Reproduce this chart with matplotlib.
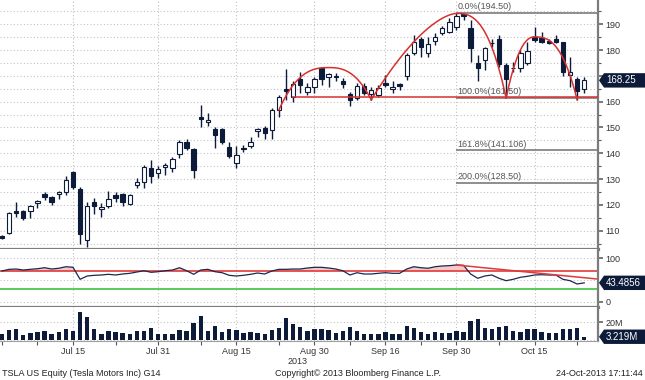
import numpy as np
import pandas as pd
import matplotlib
matplotlib.use("Agg")
import matplotlib.pyplot as plt
from matplotlib.patches import Polygon

plt.rcParams["font.family"] = ["Liberation Sans", "DejaVu Sans"]

# trading days on the chart (Jul 4 and Sep 2 were holidays)
dates = pd.bdate_range("2013-06-28", "2013-10-24")
dates = dates[~dates.isin(pd.to_datetime(["2013-07-04", "2013-09-02"]))]

open_ = [108.0, 109.2, 117.6, 117.6, 117.6, 120.8, 124.2, 123.0, 124.1, 125.0,
         132.7, 126.1, 106.4, 121.3, 118.3, 119.6, 123.9, 124.2, 120.4, 127.8,
         128.9, 134.3, 132.3, 134.7, 134.3, 139.7, 144.4, 141.6, 154.0, 152.1,
         149.4, 149.4, 142.5, 136.2, 141.8, 142.8, 148.6, 149.8, 149.0, 156.7,
         164.8, 161.9, 168.7, 163.9, 165.8, 173.2, 169.7, 169.8, 168.1, 162.9,
         161.3, 166.2, 163.0, 162.6, 167.4, 164.8, 166.7, 170.0, 178.8, 184.2,
         178.8, 183.5, 186.5, 187.1, 189.1, 194.0, 188.4, 174.9, 176.2, 182.9,
         184.2, 174.2, 173.2, 173.0, 174.9, 185.0, 184.6, 183.6, 184.2, 183.3,
         170.3, 168.7, 164.8]
high = [108.3, 117.2, 121.0, 118.0, 120.0, 122.0, 125.0, 123.5, 125.2, 131.0,
        133.2, 127.0, 121.2, 122.7, 120.7, 125.3, 125.0, 124.6, 124.2, 130.3,
        135.6, 137.4, 135.0, 136.2, 138.6, 145.1, 145.6, 142.0, 158.7, 155.6,
        150.2, 149.8, 144.5, 143.0, 143.3, 146.3, 149.8, 150.6, 157.5, 162.6,
        172.7, 168.0, 171.6, 167.4, 169.7, 173.6, 171.0, 171.2, 169.1, 163.9,
        167.1, 167.1, 165.5, 166.5, 170.3, 168.0, 167.1, 178.8, 185.9, 185.2,
        185.0, 186.5, 189.3, 192.3, 194.3, 194.5, 191.7, 178.1, 181.3, 184.2,
        185.9, 174.9, 175.5, 180.0, 183.3, 188.8, 187.1, 184.2, 185.9, 183.3,
        177.4, 169.5, 169.7]
low = [106.8, 108.8, 115.3, 114.0, 115.0, 118.8, 122.0, 120.0, 122.3, 124.0,
       126.0, 105.0, 103.8, 116.6, 115.4, 118.8, 121.0, 119.6, 119.8, 126.5,
       126.5, 128.5, 130.6, 131.6, 132.7, 138.2, 141.3, 130.6, 150.1, 150.6,
       142.0, 143.6, 138.0, 134.4, 140.6, 142.0, 146.3, 145.6, 145.5, 154.0,
       160.7, 160.0, 163.3, 162.6, 163.5, 166.5, 165.6, 168.0, 165.2, 158.3,
       160.7, 162.4, 160.7, 161.9, 165.6, 163.5, 164.5, 168.4, 178.1, 177.4,
       177.4, 182.0, 185.9, 186.5, 187.8, 191.7, 175.5, 168.0, 172.3, 181.3,
       173.6, 161.5, 171.6, 171.6, 174.2, 183.3, 182.6, 182.2, 182.6, 170.0,
       165.8, 160.7, 163.3]
close = [107.0, 116.9, 117.0, 114.9, 119.6, 121.5, 123.1, 121.3, 124.9, 129.6,
         126.8, 108.7, 119.6, 119.4, 119.3, 122.4, 122.6, 121.3, 123.9, 128.9,
         134.7, 131.2, 133.9, 135.5, 137.8, 144.4, 142.0, 133.5, 153.3, 152.9,
         147.1, 144.4, 139.1, 139.3, 141.6, 144.4, 149.4, 147.9, 156.7, 161.8,
         164.1, 166.7, 166.5, 165.6, 168.8, 168.8, 170.7, 169.6, 166.9, 160.7,
         166.1, 163.3, 164.5, 165.2, 166.5, 165.8, 166.1, 178.1, 183.3, 181.3,
         182.4, 185.2, 188.4, 191.0, 193.2, 193.2, 180.9, 172.9, 180.7, 182.6,
         174.6, 168.7, 172.9, 178.8, 179.8, 183.9, 183.3, 182.9, 183.3, 171.6,
         171.6, 164.3, 168.25]
rsi = [70.7, 74.6, 75.3, 73.0, 74.6, 76.0, 78.3, 75.3, 77.0, 80.6,
       79.3, 51.6, 59.2, 60.8, 61.5, 63.1, 61.5, 63.8, 65.4, 68.4,
       71.4, 67.7, 69.1, 71.4, 73.0, 78.3, 71.4, 63.1, 73.0, 74.6,
       69.1, 66.8, 60.8, 59.2, 60.8, 63.1, 66.1, 63.8, 70.7, 74.6,
       74.6, 75.3, 75.3, 77.6, 79.2, 79.2, 77.6, 75.3, 71.4, 61.5,
       66.8, 63.8, 63.8, 65.4, 66.8, 65.4, 65.4, 75.3, 80.6, 78.3,
       77.0, 80.6, 82.3, 83.0, 84.6, 83.9, 63.8, 53.9, 59.2, 61.5,
       53.9, 48.4, 51.6, 56.2, 58.5, 61.5, 62.2, 61.5, 61.5, 51.6,
       48.4, 40.8, 43.4856]
volume = [6.4, 11.0, 12.6, 4.9, 7.6, 8.7, 9.5, 6.0, 8.7, 11.8,
          10.3, 32.0, 25.8, 11.8, 6.8, 9.9, 8.7, 7.6, 6.0, 9.9,
          9.9, 13.4, 6.8, 6.0, 6.8, 11.0, 9.9, 18.8, 27.3, 9.5,
          15.3, 9.1, 11.8, 11.0, 7.6, 8.7, 7.2, 6.4, 10.7, 13.0,
          24.6, 18.0, 14.9, 9.9, 11.8, 12.6, 11.4, 8.0, 9.5, 14.1,
          9.5, 6.8, 6.8, 6.0, 8.7, 6.4, 6.4, 15.7, 13.4, 8.7,
          6.8, 8.7, 7.2, 7.2, 9.9, 8.7, 21.9, 23.8, 13.4, 12.2,
          14.5, 15.7, 9.9, 9.1, 12.2, 12.2, 8.7, 7.2, 7.2, 12.2,
          12.2, 13.0, 3.219]  # millions

tick_dates = ["2013-07-15", "2013-07-31", "2013-08-15", "2013-08-30",
              "2013-09-16", "2013-09-30", "2013-10-15"]
tick_labels = ["Jul 15", "Jul 31", "Aug 15", "Aug 30", "Sep 16", "Sep 30", "Oct 15"]
minor_dates = ["2013-06-28", "2013-07-08", "2013-07-23", "2013-08-08",
               "2013-08-23", "2013-09-09", "2013-09-23", "2013-10-08", "2013-10-23"]
price_ticks = [110, 120, 130, 140, 150, 160, 170, 180, 190]
price_labels = ["110", "120", "130", "140", "150", "160", "", "180", "190"]  # 170 sits under the last-price tag

fib_levels = [194.50, 161.50, 141.106, 128.50]
fib_names = ["0.0%(194.50)", "100.0%(161.50)", "161.8%(141.106)", "200.0%(128.50)"]
fib_from = "2013-09-30"
support = 161.9
support_from = "2013-08-26"
# hand drawn arcs: (start, peak, end) as (date, price)
arcs = [(("2013-08-23", 156.8), ("2013-09-04", 173.2), ("2013-09-12", 160.7), 2.6, 2.6),
        (("2013-09-12", 160.7), ("2013-09-30", 194.2), ("2013-10-09", 161.4), 1.6, 2.7),
        (("2013-10-09", 161.4), ("2013-10-15", 185.1), ("2013-10-23", 160.7), 2.2, 2.7)]
rsi_trend = (("2013-09-30", 84.5), ("2013-10-28", 52.0))

navy = "#0d1b3a"
red = "#d8302f"
gray = "#7c7c7c"
W, H = 645, 380

x = np.arange(len(dates))
pos = lambda d: dates.get_loc(pd.Timestamp(d)) if pd.Timestamp(d) in dates else len(dates) - 1 + np.busday_count("2013-10-24", d)

fig = plt.figure(figsize=(W / 100, H / 100), dpi=100)


def panel(top, bottom):
    return fig.add_axes([0, 1 - bottom / H, 598 / W, (bottom - top) / H])


ax_p = panel(0, 249)
ax_r = panel(249, 307)
ax_v = panel(307, 341)

o, c, hi, lo = map(np.array, (open_, close, high, low))
up = c >= o
ax_p.vlines(x, lo, hi, color=navy, lw=1.0, zorder=2)
ax_p.bar(x, np.maximum(np.abs(c - o), 0.3), 0.62, bottom=np.minimum(o, c),
         color=np.where(up, "white", navy), edgecolor=navy, lw=0.8, zorder=3)

x_right = 83.94
for lvl, name in zip(fib_levels, fib_names):
    ax_p.hlines(lvl, pos(fib_from), x_right, color=gray, lw=1.2, zorder=4)
    ax_p.text(pos(fib_from) + 0.1, lvl + 0.6, name, fontsize=6.5, color="#555555",
              va="bottom", ha="left", zorder=5)
ax_p.hlines(support, pos(support_from) + 0.9, x_right, color=red, lw=1.1, zorder=4)

for (d0, p0), (dm, pm), (d1, p1), nl, nr in arcs:
    x0, xm, x1 = pos(d0), pos(dm), pos(d1)
    xl = np.linspace(x0, xm, 60)
    xr = np.linspace(xm, x1, 60)
    yl = p0 + (pm - p0) * (1 - ((xm - xl) / (xm - x0)) ** nl)
    yr = p1 + (pm - p1) * (1 - ((xr - xm) / (x1 - xm)) ** nr)
    ax_p.plot(np.r_[xl, xr], np.r_[yl, yr], color=red, lw=1.1, zorder=4)

rsi_a = np.array(rsi)
ax_r.fill_between(x, rsi_a, 70, where=rsi_a > 70, interpolate=True, color="#f6c9c9", lw=0)
ax_r.axhline(70, color="#e03a3a", lw=1.2)
ax_r.axhline(30, color="#3cc43c", lw=1.2)
ax_r.plot(x, rsi_a, color="#1c2850", lw=0.9)
(t0, r0), (t1, r1) = rsi_trend
ax_r.plot([pos(t0), pos(t1)], [r0, r1], color="#e03a3a", lw=1.1)

ax_v.bar(x, volume, 0.62, color=navy, zorder=3)

grid_kw = dict(color="#c2c2c2", linestyle=(0, (1, 2)), linewidth=0.8)
major = [pos(d) for d in tick_dates]
minor = [pos(d) for d in minor_dates]
for ax in (ax_p, ax_r, ax_v):
    ax.set_xlim(-0.28, x_right)
    ax.set_xticks(major)
    ax.set_xticks(minor, minor=True)
    ax.grid(True, axis="x", which="major", **grid_kw)
    ax.grid(True, axis="y", which="both", **grid_kw)
    ax.set_axisbelow(True)
    ax.yaxis.tick_right()
    for s in ("top", "left", "bottom"):
        ax.spines[s].set_visible(False)
    ax.spines["right"].set_color(gray)
    ax.spines["right"].set_linewidth(1.6)
    ax.tick_params(axis="y", which="both", direction="out", color="#555555",
                   labelsize=6.5, labelcolor="#333333", pad=2)
    ax.tick_params(axis="y", which="major", length=3.5, width=1.1)
for ax in (ax_p, ax_r):
    ax.tick_params(axis="x", which="both", length=0, labelbottom=False)
    ax.spines["bottom"].set_visible(True)
    ax.spines["bottom"].set_color(gray)
    ax.spines["bottom"].set_linewidth(2.3)

ax_p.set_ylim(102.9, 199.4)
ax_p.set_yticks(price_ticks)
ax_p.set_yticklabels(price_labels)
ax_p.set_yticks(range(105, 200, 10), minor=True)
ax_p.tick_params(axis="y", which="minor", length=2, width=0.8)

ax_r.set_ylim(-12.2, 121.4)
ax_r.set_yticks([0, 100])
ax_r.set_yticks([50], minor=True)
ax_r.tick_params(axis="y", which="minor", length=0)

ax_v.set_ylim(-1.74, 37.8)
ax_v.set_yticks([20])
ax_v.set_yticklabels(["20M"])
ax_v.set_yticks([0], minor=True)
ax_v.tick_params(axis="y", which="minor", length=0)
ax_v.set_xticklabels(tick_labels)
ax_v.tick_params(axis="x", which="both", direction="out", length=3, width=0.8,
                 color="#555555", labelsize=6.5, labelcolor="#333333", pad=1.5)
ax_v.spines["bottom"].set_visible(True)
ax_v.spines["bottom"].set_color("#a0a0a0")
ax_v.spines["bottom"].set_linewidth(0.8)


def value_tag(ax, value, text):
    yf = fig.transFigure.inverted().transform(ax.transData.transform((0, value)))[1]
    h = 7.2 / H
    x0, x1 = 599 / W, 604 / W
    fig.add_artist(Polygon([(x0, yf), (x1, yf + h), (1.0, yf + h), (1.0, yf - h), (x1, yf - h)],
                           closed=True, transform=fig.transFigure, facecolor=navy,
                           edgecolor="none", zorder=10))
    fig.text(606 / W, yf, text, color="white", fontsize=7, va="center", ha="left", zorder=11)


value_tag(ax_p, close[-1], "168.25")
value_tag(ax_r, rsi[-1], "43.4856")
value_tag(ax_v, volume[-1], "3.219M")

fig.text(298 / W, 1 - 361 / H, "2013", fontsize=6.5, color="#333333", ha="center", va="center")
fig.text(2 / W, 1 - 373 / H, "TSLA US Equity (Tesla Motors Inc) G14", fontsize=6.5,
         color="#222222", ha="left", va="center")
fig.text(358 / W, 1 - 373 / H, "Copyright\u00a9 2013 Bloomberg Finance L.P.", fontsize=6.5,
         color="#222222", ha="center", va="center")
fig.text(643 / W, 1 - 373 / H, "24-Oct-2013 17:11:44", fontsize=6.5,
         color="#222222", ha="right", va="center")

fig.savefig("out.png", dpi=100, facecolor="white")
